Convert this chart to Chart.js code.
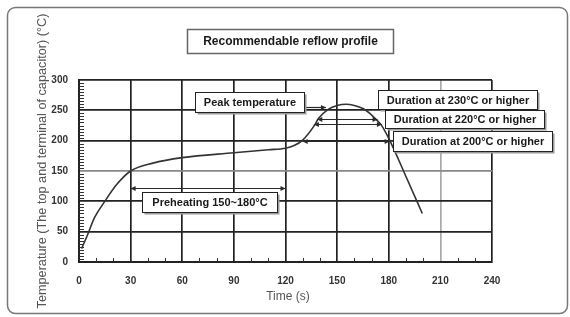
<!DOCTYPE html>
<html>
<head>
<meta charset="utf-8">
<script src="https://cdn.jsdelivr.net/npm/chart.js@4/dist/chart.umd.min.js"></script>
<style>
  html, body { margin: 0; padding: 0; background: #fff; }
  #wrap { width: 570px; height: 317px; }
</style>
</head>
<body>
<div id="wrap"><canvas id="c" width="570" height="317"></canvas></div>
<script>
// ---- data ----
const times = [1.5, 5, 9, 15, 22, 30, 43, 60, 90, 110, 120, 125, 130, 137, 139, 145, 150, 155.3, 160, 165, 169, 172.3, 175.6, 180.5, 190, 199.5];
const temps = [22, 45, 73, 100, 128, 150, 163, 172, 180, 185, 187.5, 192, 201, 226, 236, 252, 258, 260, 258, 253, 245, 236, 226, 201, 141, 80];

const xTicks = [0, 30, 60, 90, 120, 150, 180, 210, 240];
const yTicks = [0, 50, 100, 150, 200, 250, 300];

const chartTitle = "Recommendable reflow profile";
const xTitle = "Time (s)";
const yTitle = "Temperature (The top and terminal of capacitor) (°C)";

// annotation arrows: [level, from, to]
const preheatArrow = [122, 30, 120];
const durationLevels = [236, 227, 200];
const durationFrom = [138.5, 136.5, 130];
const durationTo = [173.5, 176, 180.5];
const peakArrow = [256, 129, 143.5];

const labelTexts = ["Peak temperature", "Duration at 230°C or higher", "Duration at 220°C or higher", "Duration at 200°C or higher", "Preheating 150~180°C"];

// ---- layout of the text boxes (data-unit centres, pixel sizes) ----
const boxLayout = [
  { t: 99.1, v: 264.2, w: 109, h: 20 },
  { t: 219.7, v: 267.9, w: 159, h: 19 },
  { t: 224.0, v: 235.7, w: 159, h: 18 },
  { t: 228.7, v: 199.5, w: 159, h: 20 },
  { t: 75.8, v: 98.9, w: 135, h: 20 }
];
const titleLayout = { t: 122.9, v: 363.8, w: 206, h: 24 };

const FONT = '"Liberation Sans", Arial, sans-serif';

function arrowHead(ctx, x, y, dir) {
  ctx.beginPath();
  ctx.moveTo(x, y);
  ctx.lineTo(x - dir * 5, y - 2.5);
  ctx.lineTo(x - dir * 5, y + 2.5);
  ctx.closePath();
  ctx.fill();
}

function drawBox(ctx, cx, cy, w, h, text, shadow) {
  const x = Math.round(cx - w / 2) + 0.5, y = Math.round(cy - h / 2) + 0.5;
  if (shadow) {
    ctx.fillStyle = '#9a9a9a';
    ctx.fillRect(x + 2, y + 2, w, h);
  }
  ctx.fillStyle = '#fff';
  ctx.fillRect(x, y, w, h);
  ctx.strokeStyle = shadow ? '#222' : '#666';
  ctx.lineWidth = shadow ? 1 : 1.5;
  ctx.strokeRect(x, y, w, h);
  ctx.fillStyle = '#1a1a1a';
  ctx.textAlign = 'center';
  ctx.textBaseline = 'middle';
  ctx.fillText(text, x + w / 2, y + h / 2 + 0.5, w - 6);
}

const extras = {
  id: 'extras',
  afterDatasetsDraw(chart) {
    const ctx = chart.ctx;
    const xs = chart.scales.x, ys = chart.scales.y;
    const X = v => xs.getPixelForValue(v), Y = v => ys.getPixelForValue(v);
    ctx.save();

    // minor ticks
    ctx.strokeStyle = '#333';
    ctx.lineWidth = 1;
    ctx.beginPath();
    for (let v = 5; v < 300; v += 5) {
      if (v % 50 === 0) continue;
      const py = Math.round(Y(v)) + 0.5;
      ctx.moveTo(X(0), py); ctx.lineTo(X(0) + 5, py);
    }
    for (let t = 10; t < 240; t += 10) {
      if (t % 30 === 0) continue;
      const px = Math.round(X(t)) + 0.5;
      ctx.moveTo(px, Y(0)); ctx.lineTo(px, Y(0) - 4);
    }
    ctx.stroke();

    // arrows
    ctx.strokeStyle = '#2a2a2a';
    ctx.fillStyle = '#2a2a2a';
    ctx.lineWidth = 1.2;
    const hline = (lvl, a, b, both) => {
      const py = Math.round(Y(lvl)) + 0.5;
      ctx.beginPath(); ctx.moveTo(X(a), py); ctx.lineTo(X(b), py); ctx.stroke();
      arrowHead(ctx, X(b), py, 1);
      if (both) arrowHead(ctx, X(a), py, -1);
    };
    hline(preheatArrow[0], preheatArrow[1], preheatArrow[2], true);
    for (let i = 0; i < durationLevels.length; i++) {
      hline(durationLevels[i], durationFrom[i], durationTo[i], true);
    }
    hline(peakArrow[0], peakArrow[1], peakArrow[2], false);

    // boxes
    ctx.font = 'bold 11px ' + FONT;
    for (let i = 0; i < labelTexts.length; i++) {
      const b = boxLayout[i];
      drawBox(ctx, X(b.t), Y(b.v), b.w, b.h, labelTexts[i], true);
    }
    ctx.font = 'bold 12px ' + FONT;
    drawBox(ctx, X(titleLayout.t), Y(titleLayout.v), titleLayout.w, titleLayout.h, chartTitle, false);

    // axis titles
    ctx.fillStyle = '#555';
    ctx.font = '12px ' + FONT;
    ctx.textAlign = 'center';
    ctx.textBaseline = 'middle';
    ctx.fillText(xTitle, 288, 297);
    ctx.save();
    ctx.translate(42, 161);
    ctx.rotate(-Math.PI / 2);
    ctx.font = '12.7px ' + FONT;
    ctx.fillText(yTitle, 0, 0);
    ctx.restore();

    // outer frame
    ctx.strokeStyle = '#777';
    ctx.lineWidth = 1.5;
    ctx.beginPath();
    ctx.roundRect(7.5, 7.5, 560, 306, 8);
    ctx.stroke();

    ctx.restore();
  }
};

new Chart(document.getElementById('c'), {
  type: 'line',
  data: {
    datasets: [{
      data: times.map((t, i) => ({ x: t, y: temps[i] })),
      borderColor: '#333',
      borderWidth: 1.6,
      pointRadius: 0,
      fill: false,
      cubicInterpolationMode: 'monotone'
    }]
  },
  options: {
    responsive: false,
    animation: false,
    events: [],
    layout: { padding: { top: 80, right: 78, left: 0, bottom: 0 } },
    plugins: { legend: { display: false }, tooltip: { enabled: false }, title: { display: false } },
    scales: {
      x: {
        type: 'linear', min: 0, max: 240,
        afterFit: s => { s.height = 55; },
        afterBuildTicks: s => { s.ticks = xTicks.map(v => ({ value: v })); },
        ticks: { font: { family: FONT, size: 10, weight: 'bold' }, color: '#333', padding: 13, maxRotation: 0, autoSkip: false },
        grid: {
          drawTicks: false, lineWidth: 1.7,
          color: c => (c.tick && c.tick.value === 210) ? '#aaa' : '#222'
        },
        border: { color: '#222', width: 2 }
      },
      y: {
        type: 'linear', min: 0, max: 300,
        afterFit: s => { s.width = 79; },
        afterBuildTicks: s => { s.ticks = yTicks.map(v => ({ value: v })); },
        ticks: { font: { family: FONT, size: 10, weight: 'bold' }, color: '#333', padding: 11 },
        grid: {
          drawTicks: false, lineWidth: 1.7,
          color: c => (c.tick && c.tick.value === 150) ? '#888' : '#222'
        },
        border: { color: '#222', width: 2 }
      }
    }
  },
  plugins: [extras]
});
</script>
</body>
</html>
